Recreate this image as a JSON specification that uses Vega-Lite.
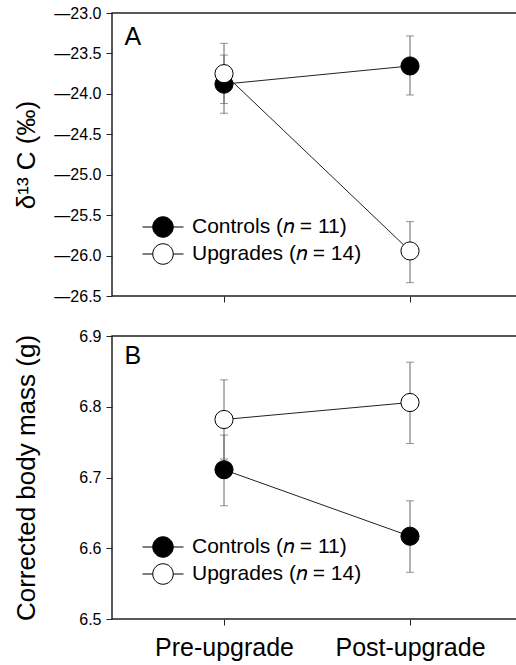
{
  "$schema": "https://vega.github.io/schema/vega-lite/v6.json",
  "padding": {"left": 12, "top": 4, "right": -2, "bottom": 0},
  "config": {
    "font": "Liberation Sans",
    "view": {"stroke": "#222", "strokeWidth": 1.5},
    "axis": {"domain": false, "grid": false, "tickColor": "#222", "tickSize": 6, "tickWidth": 1, "labelColor": "black", "titleColor": "black", "titleFontWeight": "normal"},
    "legend": {"labelColor": "black"}
  },
  "datasets": {
    "a": [
      {"phase": "Pre-upgrade", "group": "Controls", "mean": -23.88, "lo": -24.24, "hi": -23.52},
      {"phase": "Post-upgrade", "group": "Controls", "mean": -23.655, "lo": -24.014, "hi": -23.284},
      {"phase": "Pre-upgrade", "group": "Upgrades", "mean": -23.75, "lo": -24.12, "hi": -23.375},
      {"phase": "Post-upgrade", "group": "Upgrades", "mean": -25.943, "lo": -26.335, "hi": -25.58}
    ],
    "b": [
      {"phase": "Pre-upgrade", "group": "Controls", "mean": 6.711, "lo": 6.66, "hi": 6.76},
      {"phase": "Post-upgrade", "group": "Controls", "mean": 6.617, "lo": 6.566, "hi": 6.667},
      {"phase": "Pre-upgrade", "group": "Upgrades", "mean": 6.782, "lo": 6.726, "hi": 6.838},
      {"phase": "Post-upgrade", "group": "Upgrades", "mean": 6.806, "lo": 6.748, "hi": 6.863}
    ]
  },
  "spacing": 22,
  "resolve": {"legend": {"fill": "independent"}},
  "vconcat": [
    {
      "width": 406,
      "height": 283,
      "data": {"name": "a"},
      "resolve": {"axis": {"x": "independent"}},
      "layer": [
        {
          "mark": {"type": "line", "color": "#222", "strokeWidth": 1},
          "encoding": {
            "x": {"field": "phase", "type": "ordinal", "scale": {"type": "point", "padding": 0, "domain": ["Pre-upgrade", "Post-upgrade"], "range": [112, 298]}, "axis": {"orient": "bottom", "labels": false, "title": null, "ticks": true}},
            "y": {"field": "mean", "type": "quantitative", "title": "δ¹³ C (‰)", "scale": {"domain": [-26.5, -23], "nice": false, "zero": false},
              "axis": {"values": [-26.5, -26, -25.5, -25, -24.5, -24, -23.5, -23], "format": ".1f", "labelExpr": "replace(datum.label, '−', '—')", "labelFontSize": 16, "labelPadding": 5, "titleFontSize": 26, "titleX": -86, "titleBaseline": "middle"}},
            "detail": {"field": "group"}
          }
        },
        {
          "mark": {"type": "rule", "color": "#666", "strokeWidth": 1},
          "encoding": {"x": {"field": "phase", "type": "ordinal", "axis": null}, "y": {"field": "lo", "type": "quantitative", "title": "δ¹³ C (‰)"}, "y2": {"field": "hi"}}
        },
        {
          "mark": {"type": "tick", "orient": "horizontal", "size": 8, "thickness": 1, "color": "#666"},
          "encoding": {"x": {"field": "phase", "type": "ordinal", "axis": null}, "y": {"field": "lo", "type": "quantitative", "title": "δ¹³ C (‰)"}}
        },
        {
          "mark": {"type": "tick", "orient": "horizontal", "size": 8, "thickness": 1, "color": "#666"},
          "encoding": {"x": {"field": "phase", "type": "ordinal", "axis": null}, "y": {"field": "hi", "type": "quantitative", "title": "δ¹³ C (‰)"}}
        },
        {
          "mark": {"type": "point", "filled": true, "size": 330, "stroke": "black", "strokeWidth": 1, "opacity": 1},
          "encoding": {
            "x": {"field": "phase", "type": "ordinal", "axis": {"orient": "top", "labels": false, "ticks": false, "domain": false, "title": "A", "titleX": 12, "titleY": 31, "titleAlign": "left", "titleBaseline": "alphabetic", "titleAngle": 0, "titleFontSize": 25, "titleFontWeight": "normal"}},
            "y": {"field": "mean", "type": "quantitative", "title": "δ¹³ C (‰)"},
            "fill": {"field": "group", "type": "nominal", "scale": {"domain": ["Controls", "Upgrades"], "range": ["black", "white"]},
              "legend": {"orient": "none", "legendX": 40, "legendY": 203, "title": null, "symbolType": "M-2,0L-1,0M1,0A1,1,0,1,1,-1,0A1,1,0,1,1,1,0ZM1,0L2,0", "symbolSize": 420, "symbolStrokeColor": "black", "symbolStrokeWidth": 1, "labelFontSize": 21, "labelOffset": 18, "rowPadding": 1, "labelLimit": 400,
                "labelExpr": "datum.label == 'Controls' ? 'Controls (𝑛 = 11)' : 'Upgrades (𝑛 = 14)'"}}
          }
        }
      ]
    },
    {
      "width": 406,
      "height": 283,
      "data": {"name": "b"},
      "resolve": {"axis": {"x": "independent"}},
      "layer": [
        {
          "mark": {"type": "line", "color": "#222", "strokeWidth": 1},
          "encoding": {
            "x": {"field": "phase", "type": "ordinal", "scale": {"type": "point", "padding": 0, "domain": ["Pre-upgrade", "Post-upgrade"], "range": [112, 298]}, "axis": {"orient": "bottom", "labelAngle": 0, "labelFontSize": 25, "labelPadding": 10, "title": null, "labelColor": "black"}},
            "y": {"field": "mean", "type": "quantitative", "title": "Corrected body mass (g)", "scale": {"domain": [6.5, 6.9], "nice": false, "zero": false},
              "axis": {"values": [6.5, 6.6, 6.7, 6.8, 6.9], "format": ".1f", "labelFontSize": 16, "labelPadding": 5, "titleFontSize": 26, "titleX": -86, "titleBaseline": "middle"}},
            "detail": {"field": "group"}
          }
        },
        {
          "mark": {"type": "rule", "color": "#666", "strokeWidth": 1},
          "encoding": {"x": {"field": "phase", "type": "ordinal", "axis": null}, "y": {"field": "lo", "type": "quantitative", "title": "Corrected body mass (g)"}, "y2": {"field": "hi"}}
        },
        {
          "mark": {"type": "tick", "orient": "horizontal", "size": 8, "thickness": 1, "color": "#666"},
          "encoding": {"x": {"field": "phase", "type": "ordinal", "axis": null}, "y": {"field": "lo", "type": "quantitative", "title": "Corrected body mass (g)"}}
        },
        {
          "mark": {"type": "tick", "orient": "horizontal", "size": 8, "thickness": 1, "color": "#666"},
          "encoding": {"x": {"field": "phase", "type": "ordinal", "axis": null}, "y": {"field": "hi", "type": "quantitative", "title": "Corrected body mass (g)"}}
        },
        {
          "mark": {"type": "point", "filled": true, "size": 330, "stroke": "black", "strokeWidth": 1, "opacity": 1},
          "encoding": {
            "x": {"field": "phase", "type": "ordinal", "axis": {"orient": "top", "labels": false, "ticks": false, "domain": false, "title": "B", "titleX": 12, "titleY": 27, "titleAlign": "left", "titleBaseline": "alphabetic", "titleAngle": 0, "titleFontSize": 25, "titleFontWeight": "normal"}},
            "y": {"field": "mean", "type": "quantitative", "title": "Corrected body mass (g)"},
            "fill": {"field": "group", "type": "nominal", "scale": {"domain": ["Controls", "Upgrades"], "range": ["black", "white"]},
              "legend": {"orient": "none", "legendX": 40, "legendY": 200, "title": null, "symbolType": "M-2,0L-1,0M1,0A1,1,0,1,1,-1,0A1,1,0,1,1,1,0ZM1,0L2,0", "symbolSize": 420, "symbolStrokeColor": "black", "symbolStrokeWidth": 1, "labelFontSize": 21, "labelOffset": 18, "rowPadding": 1, "labelLimit": 400,
                "labelExpr": "datum.label == 'Controls' ? 'Controls (𝑛 = 11)' : 'Upgrades (𝑛 = 14)'"}}
          }
        }
      ]
    }
  ]
}
